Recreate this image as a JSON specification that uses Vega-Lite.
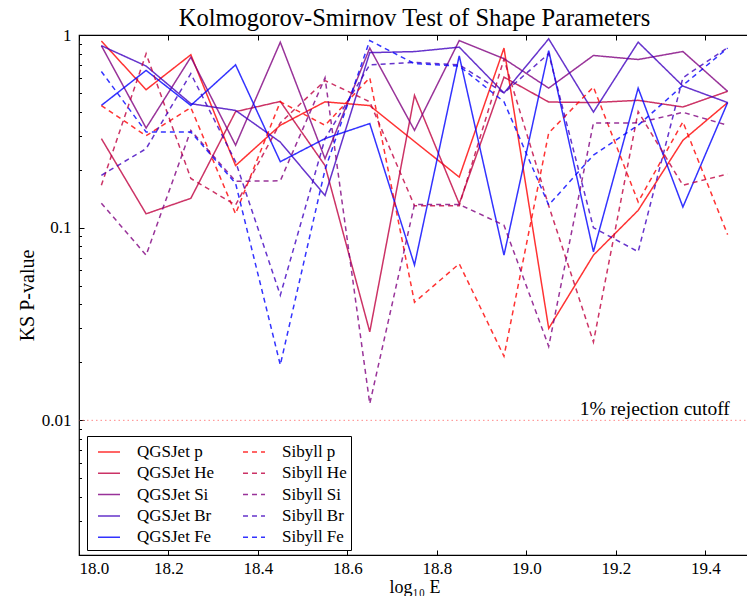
{
  "$schema": "https://vega.github.io/schema/vega-lite/v6.json",
  "autosize": {"type": "none"},
  "padding": {"left": 79, "top": 35, "right": 0, "bottom": 41},
  "width": 671,
  "height": 520,
  "background": "white",
  "config": {
    "view": {"stroke": "black", "strokeWidth": 1.2},
    "font": "Liberation Serif"
  },
  "title": {"text": "Kolmogorov-Smirnov Test of Shape Parameters", "font": "Liberation Serif", "fontSize": 24.5, "fontWeight": "normal", "color": "black", "offset": -5},
  "datasets": {
    "pts": [
      {"s":"QGSJet p","x":18.05,"p":0.93},{"s":"QGSJet p","x":18.15,"p":0.52},{"s":"QGSJet p","x":18.25,"p":0.79},{"s":"QGSJet p","x":18.35,"p":0.21},{"s":"QGSJet p","x":18.45,"p":0.34},{"s":"QGSJet p","x":18.55,"p":0.45},{"s":"QGSJet p","x":18.65,"p":0.43},{"s":"QGSJet p","x":18.75,"p":0.28},{"s":"QGSJet p","x":18.85,"p":0.183},{"s":"QGSJet p","x":18.95,"p":0.855},{"s":"QGSJet p","x":19.05,"p":0.030},{"s":"QGSJet p","x":19.15,"p":0.072},{"s":"QGSJet p","x":19.25,"p":0.123},{"s":"QGSJet p","x":19.35,"p":0.284},{"s":"QGSJet p","x":19.45,"p":0.446},
      {"s":"QGSJet He","x":18.05,"p":0.29},{"s":"QGSJet He","x":18.15,"p":0.118},{"s":"QGSJet He","x":18.25,"p":0.142},{"s":"QGSJet He","x":18.35,"p":0.40},{"s":"QGSJet He","x":18.45,"p":0.452},{"s":"QGSJet He","x":18.55,"p":0.21},{"s":"QGSJet He","x":18.65,"p":0.0288},{"s":"QGSJet He","x":18.75,"p":0.486},{"s":"QGSJet He","x":18.85,"p":0.133},{"s":"QGSJet He","x":18.95,"p":0.604},{"s":"QGSJet He","x":19.05,"p":0.449},{"s":"QGSJet He","x":19.15,"p":0.446},{"s":"QGSJet He","x":19.25,"p":0.458},{"s":"QGSJet He","x":19.35,"p":0.423},{"s":"QGSJet He","x":19.45,"p":0.51},
      {"s":"QGSJet Si","x":18.05,"p":0.88},{"s":"QGSJet Si","x":18.15,"p":0.329},{"s":"QGSJet Si","x":18.25,"p":0.767},{"s":"QGSJet Si","x":18.35,"p":0.268},{"s":"QGSJet Si","x":18.45,"p":0.918},{"s":"QGSJet Si","x":18.55,"p":0.228},{"s":"QGSJet Si","x":18.65,"p":0.855},{"s":"QGSJet Si","x":18.75,"p":0.32},{"s":"QGSJet Si","x":18.85,"p":0.936},{"s":"QGSJet Si","x":18.95,"p":0.753},{"s":"QGSJet Si","x":19.05,"p":0.53},{"s":"QGSJet Si","x":19.15,"p":0.783},{"s":"QGSJet Si","x":19.25,"p":0.746},{"s":"QGSJet Si","x":19.35,"p":0.821},{"s":"QGSJet Si","x":19.45,"p":0.51},
      {"s":"QGSJet Br","x":18.05,"p":0.88},{"s":"QGSJet Br","x":18.15,"p":0.69},{"s":"QGSJet Br","x":18.25,"p":0.44},{"s":"QGSJet Br","x":18.35,"p":0.406},{"s":"QGSJet Br","x":18.45,"p":0.278},{"s":"QGSJet Br","x":18.55,"p":0.147},{"s":"QGSJet Br","x":18.65,"p":0.81},{"s":"QGSJet Br","x":18.75,"p":0.82},{"s":"QGSJet Br","x":18.85,"p":0.865},{"s":"QGSJet Br","x":18.95,"p":0.50},{"s":"QGSJet Br","x":19.05,"p":0.955},{"s":"QGSJet Br","x":19.15,"p":0.398},{"s":"QGSJet Br","x":19.25,"p":0.918},{"s":"QGSJet Br","x":19.35,"p":0.543},{"s":"QGSJet Br","x":19.45,"p":0.446},
      {"s":"QGSJet Fe","x":18.05,"p":0.431},{"s":"QGSJet Fe","x":18.15,"p":0.655},{"s":"QGSJet Fe","x":18.25,"p":0.431},{"s":"QGSJet Fe","x":18.35,"p":0.70},{"s":"QGSJet Fe","x":18.45,"p":0.22},{"s":"QGSJet Fe","x":18.55,"p":0.29},{"s":"QGSJet Fe","x":18.65,"p":0.347},{"s":"QGSJet Fe","x":18.75,"p":0.064},{"s":"QGSJet Fe","x":18.85,"p":0.78},{"s":"QGSJet Fe","x":18.95,"p":0.072},{"s":"QGSJet Fe","x":19.05,"p":0.83},{"s":"QGSJet Fe","x":19.15,"p":0.075},{"s":"QGSJet Fe","x":19.25,"p":0.53},{"s":"QGSJet Fe","x":19.35,"p":0.128},{"s":"QGSJet Fe","x":19.45,"p":0.446},
      {"s":"Sibyll p","x":18.05,"p":0.43},{"s":"Sibyll p","x":18.15,"p":0.30},{"s":"Sibyll p","x":18.25,"p":0.42},{"s":"Sibyll p","x":18.35,"p":0.118},{"s":"Sibyll p","x":18.45,"p":0.45},{"s":"Sibyll p","x":18.55,"p":0.34},{"s":"Sibyll p","x":18.65,"p":0.60},{"s":"Sibyll p","x":18.75,"p":0.041},{"s":"Sibyll p","x":18.85,"p":0.065},{"s":"Sibyll p","x":18.95,"p":0.0215},{"s":"Sibyll p","x":19.05,"p":0.31},{"s":"Sibyll p","x":19.15,"p":0.537},{"s":"Sibyll p","x":19.25,"p":0.136},{"s":"Sibyll p","x":19.35,"p":0.354},{"s":"Sibyll p","x":19.45,"p":0.092},
      {"s":"Sibyll He","x":18.05,"p":0.166},{"s":"Sibyll He","x":18.15,"p":0.80},{"s":"Sibyll He","x":18.25,"p":0.18},{"s":"Sibyll He","x":18.35,"p":0.131},{"s":"Sibyll He","x":18.45,"p":0.35},{"s":"Sibyll He","x":18.55,"p":0.58},{"s":"Sibyll He","x":18.65,"p":0.45},{"s":"Sibyll He","x":18.75,"p":0.13},{"s":"Sibyll He","x":18.85,"p":0.13},{"s":"Sibyll He","x":18.95,"p":0.75},{"s":"Sibyll He","x":19.05,"p":0.13},{"s":"Sibyll He","x":19.15,"p":0.0255},{"s":"Sibyll He","x":19.25,"p":0.40},{"s":"Sibyll He","x":19.35,"p":0.166},{"s":"Sibyll He","x":19.45,"p":0.19},
      {"s":"Sibyll Si","x":18.05,"p":0.134},{"s":"Sibyll Si","x":18.15,"p":0.072},{"s":"Sibyll Si","x":18.25,"p":0.32},{"s":"Sibyll Si","x":18.35,"p":0.174},{"s":"Sibyll Si","x":18.45,"p":0.175},{"s":"Sibyll Si","x":18.55,"p":0.60},{"s":"Sibyll Si","x":18.65,"p":0.0122},{"s":"Sibyll Si","x":18.75,"p":0.132},{"s":"Sibyll Si","x":18.85,"p":0.132},{"s":"Sibyll Si","x":18.95,"p":0.103},{"s":"Sibyll Si","x":19.05,"p":0.0242},{"s":"Sibyll Si","x":19.15,"p":0.349},{"s":"Sibyll Si","x":19.25,"p":0.35},{"s":"Sibyll Si","x":19.35,"p":0.397},{"s":"Sibyll Si","x":19.45,"p":0.34},
      {"s":"Sibyll Br","x":18.05,"p":0.187},{"s":"Sibyll Br","x":18.15,"p":0.257},{"s":"Sibyll Br","x":18.25,"p":0.63},{"s":"Sibyll Br","x":18.35,"p":0.22},{"s":"Sibyll Br","x":18.45,"p":0.0446},{"s":"Sibyll Br","x":18.55,"p":0.29},{"s":"Sibyll Br","x":18.65,"p":0.70},{"s":"Sibyll Br","x":18.75,"p":0.72},{"s":"Sibyll Br","x":18.85,"p":0.70},{"s":"Sibyll Br","x":18.95,"p":0.5},{"s":"Sibyll Br","x":19.05,"p":0.8},{"s":"Sibyll Br","x":19.15,"p":0.1},{"s":"Sibyll Br","x":19.25,"p":0.075},{"s":"Sibyll Br","x":19.35,"p":0.6},{"s":"Sibyll Br","x":19.45,"p":0.86},
      {"s":"Sibyll Fe","x":18.05,"p":0.647},{"s":"Sibyll Fe","x":18.15,"p":0.314},{"s":"Sibyll Fe","x":18.25,"p":0.314},{"s":"Sibyll Fe","x":18.35,"p":0.17},{"s":"Sibyll Fe","x":18.45,"p":0.0194},{"s":"Sibyll Fe","x":18.55,"p":0.2},{"s":"Sibyll Fe","x":18.65,"p":0.936},{"s":"Sibyll Fe","x":18.75,"p":0.71},{"s":"Sibyll Fe","x":18.85,"p":0.69},{"s":"Sibyll Fe","x":18.95,"p":0.45},{"s":"Sibyll Fe","x":19.05,"p":0.131},{"s":"Sibyll Fe","x":19.15,"p":0.238},{"s":"Sibyll Fe","x":19.25,"p":0.34},{"s":"Sibyll Fe","x":19.35,"p":0.548},{"s":"Sibyll Fe","x":19.45,"p":0.855}
    ],
    "cut": [{"x": 19.455, "p": 0.01, "label": "1% rejection cutoff"}]
  },
  "layer": [
    {
      "data": {"name": "pts"},
      "mark": {"type": "line", "strokeWidth": 1.5, "strokeOpacity": 0.8, "clip": true},
      "encoding": {
        "x": {"field": "x", "type": "quantitative", "scale": {"domain": [18, 19.5], "nice": false, "zero": false},
          "axis": {"orient": "bottom", "values": [18.0, 18.2, 18.4, 18.6, 18.8, 19.0, 19.2, 19.4], "format": ".1f", "title": "log₁₀ E", "grid": false, "domain": false, "offset": -5, "tickSize": 5, "tickWidth": 1, "tickColor": "black", "labelPadding": 5, "labelFont": "Liberation Serif", "labelFontSize": 17, "labelColor": "black", "titleFont": "Liberation Serif", "titleFontSize": 18, "titleFontWeight": "normal", "titleColor": "black", "titlePadding": 2}},
        "y": {"field": "p", "type": "quantitative", "scale": {"type": "log", "domain": [0.002, 1], "nice": false},
          "axis": {"orient": "left", "values": [0.01, 0.1, 1],
            "labelExpr": "datum.value == 1 ? '1' : datum.value == 0.1 ? '0.1' : '0.01'",
            "offset": -5, "tickSize": 5, "tickWidth": 1,
            "tickColor": "black", "grid": false, "domain": false, "labelPadding": 8, "labelFont": "Liberation Serif", "labelFontSize": 17, "labelColor": "black",
            "title": "KS P-value", "titleFont": "Liberation Serif", "titleFontSize": 20, "titleFontWeight": "normal", "titleColor": "black", "titlePadding": 4}},
        "color": {"field": "s", "type": "nominal",
          "scale": {"domain": ["QGSJet p","QGSJet He","QGSJet Si","QGSJet Br","QGSJet Fe","Sibyll p","Sibyll He","Sibyll Si","Sibyll Br","Sibyll Fe"],
            "range": ["#ff0000","#bf0040","#800080","#4000bf","#0000ff","#ff0000","#bf0040","#800080","#4000bf","#0000ff"]},
          "legend": {"orient": "none", "legendX": 8, "legendY": 401, "columns": 2, "direction": "vertical", "title": null, "symbolType": "stroke", "symbolSize": 484, "symbolStrokeWidth": 1.5, "symbolOpacity": 0.8, "symbolOffset": 6, "labelFont": "Liberation Serif", "labelFontSize": 17, "labelColor": "black", "labelOffset": 16, "labelLimit": 300, "rowPadding": 1.3, "columnPadding": 22, "padding": 4, "strokeColor": "black", "fillColor": "white", "cornerRadius": 0}},
        "strokeDash": {"field": "s", "type": "nominal",
          "scale": {"domain": ["QGSJet p","QGSJet He","QGSJet Si","QGSJet Br","QGSJet Fe","Sibyll p","Sibyll He","Sibyll Si","Sibyll Br","Sibyll Fe"],
            "range": [[1,0],[1,0],[1,0],[1,0],[1,0],[5,4],[5,4],[5,4],[5,4],[5,4]]},
          "legend": {"orient": "none", "legendX": 8, "legendY": 401, "columns": 2, "direction": "vertical", "title": null, "symbolType": "stroke", "symbolSize": 484, "symbolStrokeWidth": 1.5, "symbolOpacity": 0.8, "symbolOffset": 6, "labelFont": "Liberation Serif", "labelFontSize": 17, "labelColor": "black", "labelOffset": 16, "labelLimit": 300, "rowPadding": 1.3, "columnPadding": 22, "padding": 4, "strokeColor": "black", "fillColor": "white", "cornerRadius": 0}}
      }
    },
    {
      "data": {"name": "cut"},
      "mark": {"type": "rule", "color": "#ff6a6a", "strokeWidth": 1, "strokeDash": [1.5, 3], "opacity": 0.8},
      "encoding": {"y": {"field": "p", "type": "quantitative",
        "axis": {"orient": "left", "values": [0.002,0.003,0.004,0.005,0.006,0.007,0.008,0.009,0.02,0.03,0.04,0.05,0.06,0.07,0.08,0.09,0.2,0.3,0.4,0.5,0.6,0.7,0.8,0.9],
          "labels": false, "title": null, "grid": false, "domain": false, "offset": -2.5, "tickSize": 2.5, "tickWidth": 1, "tickColor": "black"}}}
    },
    {
      "data": {"name": "cut"},
      "mark": {"type": "text", "align": "right", "baseline": "alphabetic", "dy": -5, "font": "Liberation Serif", "fontSize": 19.5, "color": "black"},
      "encoding": {
        "x": {"field": "x", "type": "quantitative", "axis": {"orient": "top", "values": [18.0, 18.2, 18.4, 18.6, 18.8, 19.0, 19.2, 19.4], "labels": false, "title": null, "grid": false, "domain": false, "offset": -5, "tickSize": 5, "tickWidth": 1, "tickColor": "black"}},
        "y": {"field": "p", "type": "quantitative", "axis": null},
        "text": {"field": "label"}
      }
    }
  ],
  "resolve": {"axis": {"x": "independent", "y": "independent"}}
}
